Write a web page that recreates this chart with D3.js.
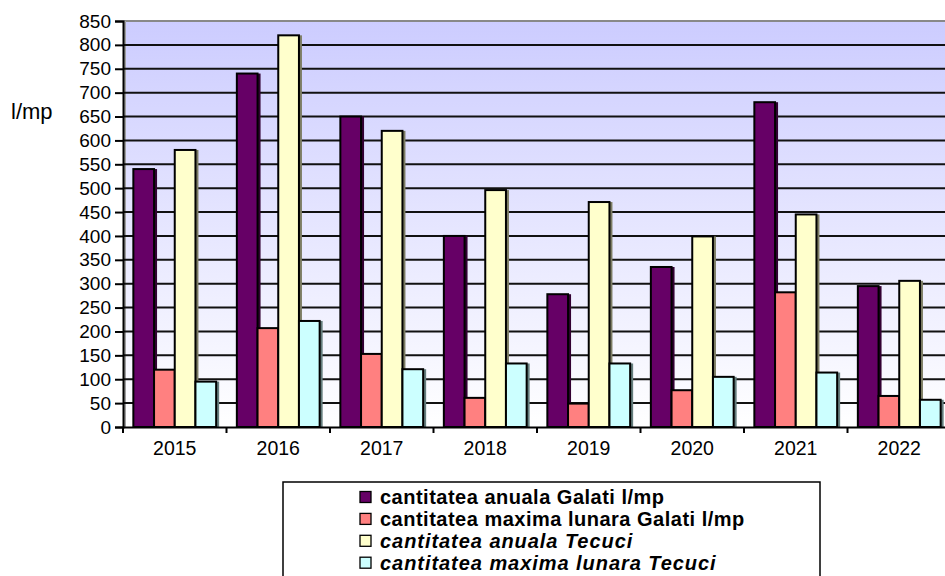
<!DOCTYPE html>
<html><head><meta charset="utf-8">
<script src="https://cdn.jsdelivr.net/npm/d3@7"></script>
<style>body{margin:0;background:#fff}svg{display:block}</style>
</head><body>
<script>
const years = ["2015","2016","2017","2018","2019","2020","2021","2022"];
const galatiAnual = [540, 740, 650, 400, 278, 335, 680, 295];
const galatiMaxLunar = [120, 207, 153, 61, 49, 77, 282, 65];
const tecuciAnual = [580, 820, 620, 496, 471, 399, 445, 306];
const tecuciMaxLunar = [95, 222, 121, 133, 133, 105, 114, 57];
const seriesNames = ["cantitatea anuala Galati l/mp","cantitatea maxima lunara Galati l/mp","cantitatea anuala Tecuci","cantitatea maxima lunara Tecuci"];
const seriesColors = ["#660066","#ff8080","#ffffcc","#ccffff"];
const yTicks = d3.range(0, 851, 50);
const seriesData = [galatiAnual, galatiMaxLunar, tecuciAnual, tecuciMaxLunar];

(function(){
const W = 945, H = 576;
const svg = d3.select("body").append("svg").attr("width", W).attr("height", H);
const pLeft = 123, pTop = 21, pBottom = 427, catW = 103.5;
const x = d3.scaleBand().domain(years).range([pLeft, pLeft + catW * years.length]);
const xs = d3.scaleBand().domain(d3.range(4)).range([0, x.bandwidth()]).paddingInner(0).paddingOuter(0.5);
const y = d3.scaleLinear().domain([0, 850]).range([pBottom, pTop]);

const defs = svg.append("defs");
const grad = defs.append("linearGradient").attr("id","bg").attr("x1",0).attr("y1",0).attr("x2",0).attr("y2",1);
grad.append("stop").attr("offset","0%").attr("stop-color","#ccccff");
grad.append("stop").attr("offset","100%").attr("stop-color","#ffffff");

svg.append("rect").attr("x", pLeft).attr("y", pTop).attr("width", W - pLeft).attr("height", pBottom - pTop).attr("fill","url(#bg)");
svg.append("line").attr("x1", pLeft).attr("x2", W).attr("y1", pTop).attr("y2", pTop).attr("stroke","#888").attr("stroke-width",2);
svg.append("rect").attr("x", pLeft).attr("y", pTop).attr("width", 3).attr("height", pBottom - pTop).attr("fill","#a0a0a0");

svg.append("g").selectAll("line").data(yTicks.filter(d => d > 0 && d < 850)).join("line")
  .attr("x1", pLeft).attr("x2", W).attr("y1", d => y(d)).attr("y2", d => y(d))
  .attr("stroke","#111").attr("stroke-width",2);

const gBars = svg.append("g");
years.forEach((yr, i) => {
  seriesData.forEach((arr, s) => {
    const v = arr[i];
    const bx = x(yr) + xs(s), bw = xs.bandwidth();
    gBars.append("rect").attr("x", bx + 3).attr("y", y(v)).attr("width", bw).attr("height", pBottom - y(v))
      .attr("fill", d3.color(seriesColors[s]).darker(2));
    gBars.append("rect").attr("x", bx).attr("y", y(v)).attr("width", bw).attr("height", pBottom - y(v))
      .attr("fill", seriesColors[s]).attr("stroke","#000").attr("stroke-width",2);
  });
});

const yAxis = d3.axisLeft(y).tickValues(yTicks).tickSize(8).tickPadding(4);
const gy = svg.append("g").attr("transform", `translate(${pLeft},0)`).call(yAxis);
gy.select(".domain").attr("stroke","#000").attr("stroke-width",2);
gy.selectAll(".tick line").attr("stroke","#000").attr("stroke-width",2);
gy.selectAll("text").attr("font-family","Liberation Sans, Arial, sans-serif").attr("font-size",19).attr("fill","#000");

const xAxis = d3.axisBottom(x).tickSize(0).tickPadding(14);
const gx = svg.append("g").attr("transform", `translate(0,${pBottom})`).call(xAxis);
gx.select(".domain").attr("stroke","#000").attr("stroke-width",2);
gx.selectAll("text").attr("font-family","Liberation Sans, Arial, sans-serif").attr("font-size",19.5).attr("fill","#000");
gx.selectAll(".sep").data(years).join("line").attr("class","sep")
  .attr("x1", d => x(d)).attr("x2", d => x(d)).attr("y1", 0).attr("y2", 6)
  .attr("stroke","#000").attr("stroke-width",2);

svg.append("text").attr("x", 11).attr("y", 119).text("l/mp")
  .attr("font-family","Liberation Sans, Arial, sans-serif").attr("font-size",22).attr("fill","#000");

svg.append("rect").attr("x", 283).attr("y", 482).attr("width", 537).attr("height", 120)
  .attr("fill","#fff").attr("stroke","#000").attr("stroke-width",1.5);
const lg = svg.append("g");
seriesNames.forEach((n, i) => {
  const cy = 497 + i * 21.9;
  lg.append("rect").attr("x", 360).attr("y", cy - 5.5).attr("width", 11).attr("height", 11)
    .attr("fill", seriesColors[i]).attr("stroke","#000").attr("stroke-width",1.3);
  lg.append("text").attr("x", 380).attr("y", cy + 7).text(n)
    .attr("font-family","Liberation Sans, Arial, sans-serif").attr("font-size",20).attr("font-weight","bold")
    .attr("font-style", i >= 2 ? "italic" : "normal")
    .attr("letter-spacing", i >= 2 ? 0.95 : 0.5).attr("fill","#000");
});
})();
</script>
</body></html>
